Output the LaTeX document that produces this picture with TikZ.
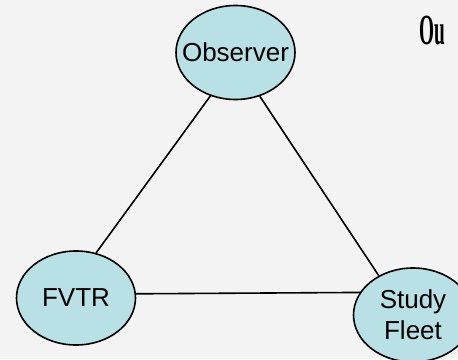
\documentclass[tikz,border=0pt]{standalone}
\usepackage{fontspec}
\setmainfont{Liberation Sans}
\newfontfamily\titlefont{Liberation Serif}
\usetikzlibrary{shapes.geometric}
\definecolor{pagebg}{RGB}{243,243,243}
\definecolor{bubble}{RGB}{185,224,228}
\tikzset{
  party/.style={ellipse, draw=black, line width=1.6pt, fill=bubble,
    minimum width=119pt, minimum height=94pt, inner sep=0pt},
  partytext/.style={font=\fontsize{26}{31}\selectfont, align=center, inner sep=0pt},
  link/.style={draw=black, line width=1.6pt}
}
\begin{document}
\begin{tikzpicture}[x=1pt, y=-1pt]
  \fill[pagebg] (0,0) rectangle (458,359);
  \useasboundingbox (0,0) rectangle (458,359);
  \clip (0,0) rectangle (458,359);

  % the three parties
  \node[party, label={[partytext]center:Observer}] (obs) at (235.5,52.5) {};
  \node[party, label={[partytext]center:FVTR}] (fvtr) at (76,298) {};
  \node[party, label={[partytext]center:Study\\Fleet}] (fleet) at (413,315) {};

  % heading, cut by the right edge
  \node[anchor=base west, inner sep=0pt, xscale=0.45,
        font=\titlefont\bfseries\fontsize{43}{43}\selectfont] (title) at (419,44) {Ou};

  % relations
  \draw[link] (obs.240) -- (fvtr.66);
  \draw[link] (obs.-61) -- (fleet.131);
  \draw[link] (fvtr.4.8) -- (fleet.157.3);
\end{tikzpicture}
\end{document}
